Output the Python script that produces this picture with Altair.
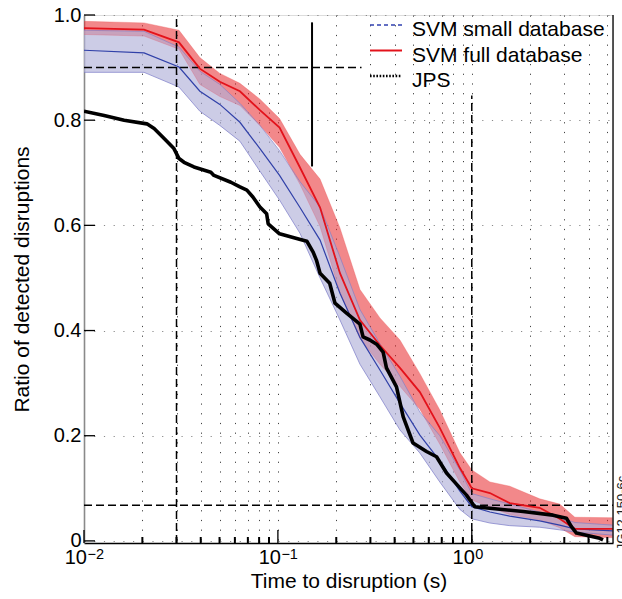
import altair as alt
import pandas as pd

# ---- detection curves -------------------------------------------------------
svm_time = [0.01, 0.0204, 0.0309, 0.0396, 0.0502, 0.0637, 0.0808, 0.102, 0.130,
            0.165, 0.209, 0.265, 0.336, 0.426, 0.540, 0.684, 0.867, 1.0, 1.24,
            1.57, 2.24, 2.84, 3.40, 5.33]

full_mean = [0.975, 0.972, 0.948, 0.898, 0.873, 0.855, 0.819, 0.786, 0.710,
             0.634, 0.509, 0.420, 0.372, 0.329, 0.283, 0.215, 0.139, 0.100,
             0.091, 0.072, 0.063, 0.042, 0.023, 0.023]
full_lo = [0.963, 0.960, 0.935, 0.868, 0.845, 0.828, 0.790, 0.748, 0.678,
           0.598, 0.472, 0.385, 0.336, 0.294, 0.250, 0.184, 0.112, 0.078,
           0.064, 0.050, 0.040, 0.025, 0.008, 0.006]
full_hi = [0.988, 0.985, 0.971, 0.919, 0.889, 0.870, 0.840, 0.803, 0.735,
           0.688, 0.595, 0.478, 0.424, 0.382, 0.318, 0.249, 0.168, 0.135,
           0.112, 0.104, 0.080, 0.070, 0.045, 0.044]

small_mean = [0.933, 0.928, 0.901, 0.855, 0.830, 0.796, 0.746, 0.695, 0.634,
              0.572, 0.471, 0.387, 0.325, 0.262, 0.201, 0.152, 0.095, 0.065,
              0.055, 0.047, 0.038, 0.030, 0.023, 0.019]
small_lo = [0.891, 0.891, 0.863, 0.817, 0.790, 0.760, 0.703, 0.648, 0.585,
            0.500, 0.420, 0.336, 0.274, 0.211, 0.167, 0.112, 0.060, 0.042,
            0.034, 0.029, 0.026, 0.021, 0.017, 0.011]
small_hi = [0.971, 0.969, 0.939, 0.893, 0.868, 0.832, 0.790, 0.742, 0.683,
            0.635, 0.540, 0.440, 0.375, 0.313, 0.245, 0.200, 0.135, 0.090,
            0.080, 0.070, 0.055, 0.045, 0.035, 0.030]

jps_time = [0.0100, 0.0127, 0.0161, 0.0211, 0.0230, 0.0259, 0.0291, 0.0309,
            0.0328, 0.0369, 0.0451, 0.0468, 0.0572, 0.0637, 0.0692, 0.0743,
            0.0808, 0.0875, 0.0891, 0.102, 0.125, 0.141, 0.152, 0.158, 0.165,
            0.185, 0.197, 0.226, 0.265, 0.275, 0.298, 0.323, 0.349, 0.363,
            0.409, 0.443, 0.498, 0.584, 0.658, 0.741, 0.834, 0.939, 1.036,
            1.238, 1.839, 2.625, 3.077, 3.265, 3.465, 4.568, 4.751]
jps_ratio = [0.817, 0.809, 0.800, 0.793, 0.784, 0.765, 0.746, 0.727, 0.720,
             0.711, 0.701, 0.695, 0.682, 0.673, 0.667, 0.654, 0.635, 0.622,
             0.603, 0.584, 0.575, 0.570, 0.549, 0.534, 0.509, 0.490, 0.452,
             0.433, 0.412, 0.388, 0.382, 0.374, 0.359, 0.329, 0.293, 0.236,
             0.186, 0.170, 0.160, 0.129, 0.108, 0.087, 0.065, 0.062, 0.056,
             0.049, 0.043, 0.027, 0.015, 0.005, 0.002]

# ---- reference markers -------------------------------------------------------
vline_time = [0.03, 1.0]
vline_top = [1.0, 0.847]
hline_ratio = [0.9, 0.068]
hline_end = [0.27, 5.35]
bar_time = [0.15]
bar_lo = [0.712]
bar_hi = [0.986]

# ---- axes ---------------------------------------------------------------------
y_ticks = [0, 0.2, 0.4, 0.6, 0.8, 1.0]
x_major = [0.01, 0.1, 1.0]
x_exponents = ["\u22122", "\u22121", "0"]
x_minor = [0.02, 0.03, 0.04, 0.05, 0.06, 0.07, 0.08, 0.09,
           0.2, 0.3, 0.4, 0.5, 0.6, 0.7, 0.8, 0.9, 2, 3, 4, 5]
legend_labels = ["SVM small database", "SVM full database", "JPS"]

X_MIN, X_MAX = 0.01, 5.35
Y_MIN, Y_MAX = -0.004, 1.0
W, H = 529, 528
FONT = "Liberation Sans"

xs = alt.Scale(type="log", domain=[X_MIN, X_MAX], nice=False)
ys = alt.Scale(domain=[Y_MIN, Y_MAX], nice=False, zero=False)

x_axis = alt.Axis(values=x_minor + [0.1, 1.0], labels=False, ticks=False,
                  tickSize=0, grid=True, gridDash=[1.2, 8.5], gridColor="#222",
                  gridOpacity=0.85, gridWidth=1, domainColor="black",
                  domainWidth=1.3, title="Time to disruption (s)",
                  titleFontSize=21, titleFont=FONT, titleFontWeight="normal",
                  titleColor="black", titleX=W / 2, titleY=44,
                  titleAlign="center", titleBaseline="alphabetic")
y_axis = alt.Axis(values=y_ticks, ticks=False, tickSize=0,
                  labelExpr="datum.value == 0 ? '0' : format(datum.value, '.1f')",
                  labelFontSize=20, labelFont=FONT, labelColor="black",
                  labelPadding=3, grid=True, gridDash=[1.2, 8.5],
                  gridColor="#8a8a8a", gridWidth=1, domainColor="#8a8a8a",
                  domainWidth=1.6, title="Ratio of detected disruptions",
                  titleFontSize=21, titleFont=FONT, titleFontWeight="normal",
                  titleColor="black", titleAngle=270, titleX=-56, titleY=H / 2,
                  titleAlign="center", titleBaseline="alphabetic")


def X(field):
    return alt.X(f"{field}:Q", scale=xs, axis=x_axis)


def Y(field):
    return alt.Y(f"{field}:Q", scale=ys, axis=y_axis)


svm = pd.DataFrame({"t": svm_time, "full": full_mean, "full_lo": full_lo,
                    "full_hi": full_hi, "small": small_mean,
                    "small_lo": small_lo, "small_hi": small_hi})
jps = pd.DataFrame({"t": jps_time, "ratio": jps_ratio})

base = alt.Chart(svm)

red_band = base.mark_area(color="#e8262a", opacity=0.55, clip=True).encode(
    x=X("t"), y=Y("full_lo"), y2="full_hi:Q")
blue_band = base.mark_area(color="#b1b1d9", opacity=0.65, clip=True).encode(
    x=X("t"), y=Y("small_lo"), y2="small_hi:Q")


def edge(field, color, width, opacity):
    return base.mark_line(color=color, strokeWidth=width, opacity=opacity,
                          clip=True).encode(x=X("t"), y=Y(field))


edges = [edge("small_lo", "#7a7ac8", 1, 0.7), edge("small_hi", "#7a7ac8", 1, 0.6),
         edge("full_lo", "#e06070", 0.8, 0.4), edge("full_hi", "#e85050", 0.8, 0.4)]

vlines = alt.Chart(pd.DataFrame({"t": vline_time, "top": vline_top,
                                 "bottom": [Y_MIN] * len(vline_time)})).mark_rule(
    color="black", strokeWidth=1.5, strokeDash=[8, 4]).encode(
    x=X("t"), y=Y("bottom"), y2="top:Q")
hlines = alt.Chart(pd.DataFrame({"r": hline_ratio, "end": hline_end,
                                 "start": [X_MIN] * len(hline_ratio)})).mark_rule(
    color="black", strokeWidth=1.5, strokeDash=[8, 4]).encode(
    y=Y("r"), x=X("start"), x2="end:Q")
bar = alt.Chart(pd.DataFrame({"t": bar_time, "lo": bar_lo, "hi": bar_hi})).mark_rule(
    color="black", strokeWidth=2).encode(x=X("t"), y=Y("lo"), y2="hi:Q")

small_line = base.mark_line(color="#3040a8", strokeWidth=1.2, clip=True).encode(
    x=X("t"), y=Y("small"))
full_line = base.mark_line(color="#e3121b", strokeWidth=1.8, clip=True).encode(
    x=X("t"), y=Y("full"))
jps_line = alt.Chart(jps).mark_line(color="black", strokeWidth=3.6,
                                    strokeJoin="round", clip=True).encode(
    x=X("t"), y=Y("ratio"))

# inward tick marks
y_tick_marks = alt.Chart(pd.DataFrame({"v": y_ticks})).mark_rule(
    color="black", strokeWidth=1.3).encode(
    y=Y("v"), x=alt.value(0), x2=alt.value(11))
x_major_marks = alt.Chart(pd.DataFrame({"v": x_major})).mark_rule(
    color="black", strokeWidth=1.3).encode(
    x=X("v"), y=alt.value(H), y2=alt.value(H - 13))
x_minor_marks = alt.Chart(pd.DataFrame({"v": x_minor})).mark_rule(
    color="black", strokeWidth=2).encode(
    x=X("v"), y=alt.value(H), y2=alt.value(H - 6))

# power-of-ten tick labels
pow_df = pd.DataFrame({"v": x_major, "exp": x_exponents})
x_base_labels = alt.Chart(pow_df).mark_text(
    text="10", align="right", baseline="alphabetic", fontSize=20, font=FONT,
    color="black", dx=3).encode(x=X("v"), y=alt.value(H + 21))
x_exp_labels = alt.Chart(pow_df).mark_text(
    align="left", baseline="alphabetic", fontSize=14.5, font=FONT,
    color="black", dx=3.5).encode(x=X("v"), y=alt.value(H + 16), text="exp:N")

# frame edge on the right
right_edge = alt.Chart(pd.DataFrame({"v": [X_MAX]})).mark_rule(
    color="black", strokeWidth=1.3).encode(
    x=X("v"), y=alt.value(0), y2=alt.value(H))

# legend
legend_styles = [
    dict(color="#3040b0", strokeWidth=1.3, strokeDash=[4, 3]),
    dict(color="#e3121b", strokeWidth=2),
    dict(color="black", strokeWidth=2.6, strokeDash=[1.6, 1.6]),
]
legend_layers = []
for i, (label, style) in enumerate(zip(legend_labels, legend_styles)):
    row_y = 10 + 25.5 * i
    row = alt.Chart(pd.DataFrame({"label": [label]}))
    legend_layers.append(row.mark_rule(**style).encode(
        x=alt.value(286), x2=alt.value(318), y=alt.value(row_y)))
    legend_layers.append(row.mark_text(
        align="left", baseline="alphabetic", fontSize=21, font=FONT,
        color="black").encode(
        x=alt.value(328), y=alt.value(row_y + 11), text="label:N"))

fig_id = alt.Chart(pd.DataFrame({"label": ["JG12.150-6c"]})).mark_text(
    angle=270, align="center", baseline="top", fontSize=13, font=FONT,
    color="#222").encode(x=alt.value(W + 3), y=alt.value(H - 30), text="label:N")

chart = alt.layer(
    red_band, blue_band, *edges, vlines, hlines, bar,
    small_line, full_line, jps_line,
    y_tick_marks, x_major_marks, x_minor_marks, x_base_labels, x_exp_labels,
    right_edge, *legend_layers, fig_id,
).properties(
    width=W, height=H,
    autosize=alt.AutoSizeParams(type="none"),
    padding={"left": 84, "top": 15, "right": 9, "bottom": 56},
).configure_view(
    stroke="#8a8a8a", strokeWidth=1.3
).configure(font=FONT, background="white")

chart.save("out.html", embed_options={"renderer": "svg", "actions": False})
